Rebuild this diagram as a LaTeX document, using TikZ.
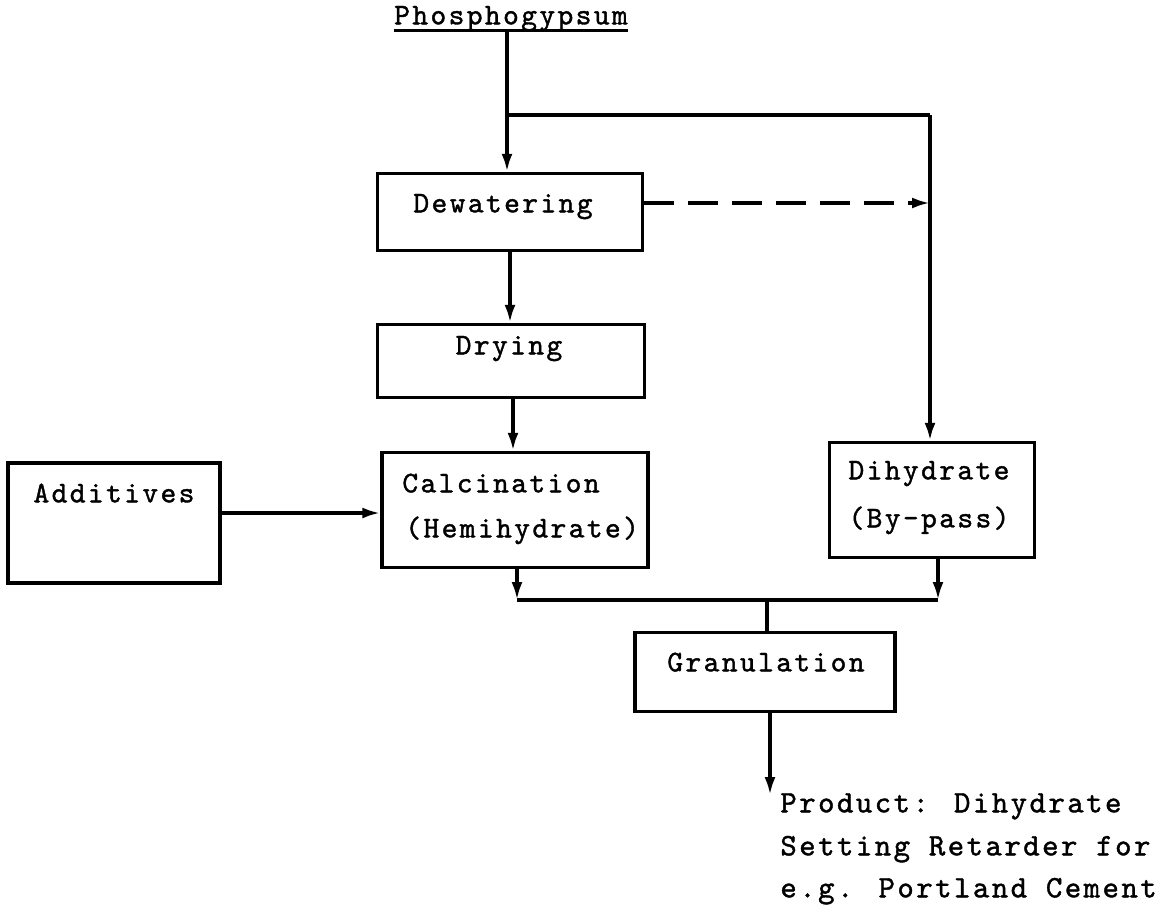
\documentclass[tikz,border=0pt]{standalone}
\usepackage{fontspec}
\usetikzlibrary{arrows.meta}
\newfontfamily\tw{lmmono10-regular.otf}[LetterSpace=8,FakeBold=1.3]
\tikzset{
  boxnode/.style={draw, line width=1.7pt, inner sep=0pt},
  lbl/.style={font=\tw\fontsize{15pt}{18pt}\selectfont, inner sep=0pt},
  plbl/.style={font=\tw\fontsize{15.6pt}{18pt}\selectfont, inner sep=0pt, anchor=mid west},
  arr/.style={-{Latex[length=9pt,width=5.5pt]}, line width=1.7pt},
  plain/.style={line width=1.7pt},
  dashpat/.style={dash pattern=on 15pt off 7pt}
}
\begin{document}
\begin{tikzpicture}[x=0.5pt,y=-0.5pt]
\useasboundingbox (0,0) rectangle (1166,921);
% boxes
\node[boxnode, minimum width=132.5pt, minimum height=38.5pt] (dew) at (510,212) {};
\node[boxnode, minimum width=133.5pt, minimum height=36.5pt] (dry) at (511,361) {};
\node[boxnode, minimum width=133pt, minimum height=57.5pt] (calc) at (515,510) {};
\node[boxnode, minimum width=106pt, minimum height=60pt] (add) at (114,523) {};
\node[boxnode, minimum width=102.5pt, minimum height=57.5pt] (dih) at (932,500) {};
\node[boxnode, minimum width=130pt, minimum height=39.5pt] (gran) at (765,672) {};
% texts
\node[lbl, anchor=mid] (phos) at (511,20) {Phosphogypsum};
\draw[line width=1.2pt] ([yshift=-3pt]phos.base west) -- ([yshift=-3pt]phos.base east);
\node[lbl, anchor=mid] (tdew) at (503,208) {Dewatering};
\node[lbl, anchor=mid] (tdry) at (509,350) {Drying};
\node[lbl, anchor=mid west] (tcalc1) at (402,488) {Calcination};
\node[lbl, anchor=mid west] (tcalc2) at (405,533) {(Hemihydrate)};
\node[lbl, anchor=mid] (tadd) at (114,498) {Additives};
\node[lbl, anchor=mid] (tdih1) at (929,475) {Dihydrate};
\node[lbl, anchor=mid] (tdih2) at (929,523) {(By-pass)};
\node[lbl, anchor=mid] (tgran) at (766,667) {Granulation};
\node[plbl] (p1) at (780,808) {Product: Dihydrate};
\node[plbl] (p2) at (780,851) {Setting Retarder for};
\node[plbl] (p3) at (780,893) {e.g. Portland Cement};
% coordinates
\coordinate (branch) at (507,115);
\coordinate (bcorner) at (930,115);
\coordinate (mL) at (517,600);
\coordinate (mR) at (938,600);
\coordinate (mC) at (767,600);
\coordinate (out) at (770,795);
% connectors
\draw[plain] (phos.south -| branch) -- (branch);
\draw[arr] (branch) -- (branch |- dew.north);
\draw[plain] (branch) -- (bcorner);
\draw[arr] (bcorner) -- (bcorner |- dih.north);
\draw[arr, dashpat] ([yshift=4.5pt]dew.east) -- ([yshift=4.5pt]dew.east -| bcorner);
\draw[arr] (dew.south) -- (dew.south |- dry.north);
\draw[arr] ([xshift=1pt]dry.south) -- ([xshift=1pt]dry.south |- calc.north);
\draw[arr] ([yshift=5pt]add.east) -- ([yshift=5pt]add.east -| calc.west);
\draw[arr] (calc.south -| mL) -- (mL);
\draw[arr] (dih.south -| mR) -- (mR);
\draw[plain] (mL) -- (mR);
\draw[plain] (mC) -- (mC |- gran.north);
\draw[arr] (gran.south -| out) -- (out);
\end{tikzpicture}
\end{document}
